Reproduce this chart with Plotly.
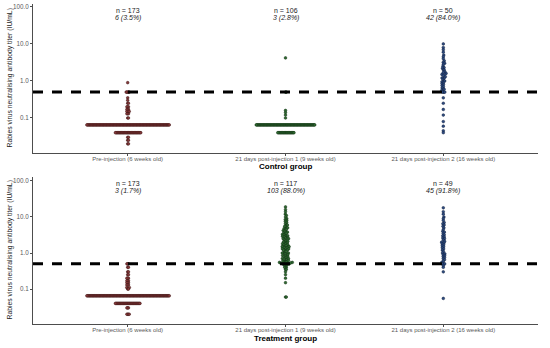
import math
import plotly.graph_objects as go

# ---------------- data ----------------
categories = ["Pre-injection (6 weeks old)",
              "21 days post-injection 1 (9 weeks old)",
              "21 days post-injection 2 (16 weeks old)"]

ctrl_pre = ([0.9] + [0.5]*5 + [0.35, 0.3] + [0.25]*2 + [0.2]*3 + [0.17]*3 + [0.15]*4 +
            [0.13]*3 + [0.1]*2 + [0.065]*108 + [0.04]*34 + [0.03]*2 + [0.025]*2 + [0.02]*2)
ctrl_post1 = ([4.2] + [0.5]*2 + [0.16, 0.14, 0.12, 0.1] + [0.065]*77 + [0.04]*22)
ctrl_post2 = [10, 8, 7, 6, 5, 4.5, 4, 3.5, 3.2, 3, 2.8, 2.5, 2.3, 2.2, 2, 2, 1.8, 1.7,
              1.6, 1.5, 1.5, 1.4, 1.3, 1.2, 1.2, 1.1, 1, 1, 0.95, 0.9, 0.85, 0.8, 0.75,
              0.7, 0.65, 0.6, 0.6, 0.55, 0.5, 0.5, 0.5, 0.5,
              0.35, 0.25, 0.17, 0.12, 0.08, 0.06, 0.045, 0.04]

trt_pre = ([0.5]*3 + [0.4]*2 + [0.3]*2 + [0.25]*2 + [0.2]*3 + [0.17]*3 + [0.15]*3 +
           [0.13]*3 + [0.11]*2 + [0.1]*2 + [0.065]*108 + [0.04]*33 + [0.03]*3 + [0.02]*4)
trt_post1 = [19, 16, 14, 12, 11, 10, 9, 8.5, 8, 7.5,
             7, 6.5, 6, 6, 5.5, 5.5, 5, 5, 4.8, 4.5,
             4.5, 4.2, 4, 4, 3.8, 3.6, 3.5, 3.5, 3.3, 3.2,
             3, 3, 3, 2.9, 2.8, 2.7, 2.6, 2.5, 2.5, 2.4,
             2.3, 2.2, 2.1, 2, 2, 2, 1.9, 1.8, 1.8, 1.7,
             1.7, 1.6, 1.6, 1.5, 1.5, 1.5, 1.5, 1.4, 1.4, 1.3,
             1.3, 1.3, 1.2, 1.2, 1.2, 1.1, 1.1, 1, 1, 1,
             1, 0.95, 0.9, 0.9, 0.85, 0.85, 0.8, 0.8, 0.75, 0.75,
             0.7, 0.7, 0.7, 0.65, 0.65, 0.6, 0.6, 0.6, 0.55, 0.55,
             0.55, 0.5, 0.5, 0.5, 0.5, 0.5, 0.5, 0.5, 0.52, 0.53,
             0.58, 0.62, 0.68,
             0.45, 0.45, 0.45, 0.4, 0.4, 0.4, 0.35, 0.35, 0.3, 0.25, 0.2, 0.15, 0.06, 0.06]
trt_post2 = [18, 14, 12, 10, 9, 8, 7, 6.5, 6, 5.5,
             5, 4.5, 4, 3.8, 3.5, 3.2, 3, 2.8, 2.6, 2.5,
             2.3, 2.1, 2, 1.9, 1.8, 1.7, 1.6, 1.5, 1.4, 1.3,
             1.2, 1.1, 1, 0.95, 0.9, 0.85, 0.8, 0.75, 0.7, 0.65,
             0.6, 0.55, 0.5, 0.5, 0.5,
             0.45, 0.4, 0.3, 0.055]

ctrl_n_labels = ["n = 173", "n = 106", "n = 50"]
ctrl_pct_labels = ["6 (3.5%)", "3 (2.8%)", "42 (84.0%)"]
trt_n_labels = ["n = 173", "n = 117", "n = 49"]
trt_pct_labels = ["3 (1.7%)", "103 (88.0%)", "45 (91.8%)"]
panel_titles = ["Control group", "Treatment group"]
threshold = 0.5
y_tick_vals = [0.1, 1, 10, 100]
y_tick_text = ["0.1", "1.0", "10.0", "100.0"]

fill_colors = ["#86393a", "#2f6a31", "#2e4c82"]
edge_colors = ["#3b1414", "#123014", "#13213d"]

# ---------------- layout geometry ----------------
W, H = 550, 348
ML, MR, MT, MB = 33, 12, 4, 24
plot_w = W - ML - MR
plot_h = H - MT - MB
x_range = [-0.6, 2.6]
top_px = (4, 153)
bot_px = (177, 324)
top_yr = [-1.946, 2.08]
bot_yr = [-1.97, 2.11]


def dom(px):
    return [(H - MB - px[1]) / plot_h, (H - MB - px[0]) / plot_h]


def swarm(vals, px_per_x, px_per_dec, d=1.75, drow=0.77):
    ys = [math.log10(v) * px_per_dec for v in vals]
    order = sorted(range(len(vals)), key=lambda i: vals[i])
    xs = [0.0] * len(vals)
    placed = []
    for i in order:
        y = ys[i]
        cands = [0.0]
        near = []
        for (px, py) in placed:
            dy = abs(py - y)
            if dy < 1e-9:
                near.append((px, drow))
                cands += [px + drow, px - drow]
            elif dy < d:
                w = math.sqrt(d * d - dy * dy)
                near.append((px, w))
                cands += [px + w, px - w]
        cands.sort(key=lambda c: (round(abs(c), 6), -c))
        for c in cands:
            if all(abs(c - px) >= w - 1e-6 for px, w in near):
                xs[i] = c
                break
        placed.append((xs[i], y))
    return [x / px_per_x for x in xs]


fig = go.Figure()
px_per_x = plot_w / (x_range[1] - x_range[0])

panels = [
    ([ctrl_pre, ctrl_post1, ctrl_post2], "x", "y", top_px, top_yr, ctrl_n_labels, ctrl_pct_labels),
    ([trt_pre, trt_post1, trt_post2], "x2", "y2", bot_px, bot_yr, trt_n_labels, trt_pct_labels),
]

annotations = []
for pi, (groups, xa, ya, pxs, yr, nlab, plab) in enumerate(panels):
    px_per_dec = (pxs[1] - pxs[0]) / (yr[1] - yr[0])
    for gi, vals in enumerate(groups):
        offs = swarm(vals, px_per_x, px_per_dec)
        fig.add_trace(go.Scatter(
            x=[gi + o for o in offs], y=vals, mode="markers", xaxis=xa, yaxis=ya,
            marker=dict(size=2.7, color=fill_colors[gi],
                        line=dict(width=0.5, color=edge_colors[gi])),
            showlegend=False, hoverinfo="y"))
    fig.add_trace(go.Scatter(
        x=x_range, y=[threshold, threshold], mode="lines", xaxis=xa, yaxis=ya,
        line=dict(color="black", width=3, dash="10px,9px"),
        showlegend=False, hoverinfo="skip"))
    h = pxs[1] - pxs[0]
    for gi in range(3):
        annotations.append(dict(x=gi, xref=xa, y=(pxs[1] - (pxs[0] + 6.5)) / h,
                                yref=ya + " domain", text=nlab[gi], showarrow=False,
                                xanchor="center", yanchor="middle",
                                font=dict(size=7, color="#1a1a1a")))
        annotations.append(dict(x=gi, xref=xa, y=(pxs[1] - (pxs[0] + 13.5)) / h,
                                yref=ya + " domain", text="<i>" + plab[gi] + "</i>",
                                showarrow=False, xanchor="center", yanchor="middle",
                                font=dict(size=7, color="#1a1a1a")))
    # y-axis title
    annotations.append(dict(x=(9 - ML) / plot_w, xref="paper",
                            y=(H - MB - (pxs[0] + pxs[1]) / 2) / plot_h, yref="paper",
                            text="Rabies virus neutralising antibody titer (IU/mL)",
                            textangle=-90, showarrow=False,
                            xanchor="center", yanchor="middle",
                            font=dict(size=6.8, color="#1a1a1a")))
    # panel (x-axis) title
    ty = 166 if pi == 0 else 338
    annotations.append(dict(x=0.5, xref="paper", y=(H - MB - ty) / plot_h, yref="paper",
                            text="<b>" + panel_titles[pi] + "</b>", showarrow=False,
                            xanchor="center", yanchor="middle",
                            font=dict(size=8, color="black")))

axis_common_x = dict(range=x_range, tickvals=[0, 1, 2], ticktext=categories,
                     showgrid=False, zeroline=False, showline=True, linecolor="#4d4d4d",
                     linewidth=1, ticks="outside", ticklen=2, tickcolor="#4d4d4d",
                     ticklabelstandoff=-2,
                     tickfont=dict(size=6.0, color="#5a5a5a"))
axis_common_y = dict(type="log", tickvals=y_tick_vals, ticktext=y_tick_text,
                     showgrid=False, zeroline=False, showline=True, linecolor="#4d4d4d",
                     linewidth=1, ticks="outside", ticklen=2, tickcolor="#4d4d4d",
                     tickfont=dict(size=6.3, color="#5a5a5a"))

fig.update_layout(
    width=W, height=H,
    margin=dict(l=ML, r=MR, t=MT, b=MB),
    paper_bgcolor="white", plot_bgcolor="white",
    font=dict(family="Liberation Sans, Arial, sans-serif"),
    xaxis=dict(domain=[0, 1], anchor="y", **axis_common_x),
    yaxis=dict(domain=dom(top_px), anchor="x", range=top_yr, **axis_common_y),
    xaxis2=dict(domain=[0, 1], anchor="y2", **axis_common_x),
    yaxis2=dict(domain=dom(bot_px), anchor="x2", range=bot_yr, **axis_common_y),
    annotations=annotations,
)

fig.write_html("out.html", config={"displayModeBar": False},
               post_script="document.body.style.margin='0px';")
